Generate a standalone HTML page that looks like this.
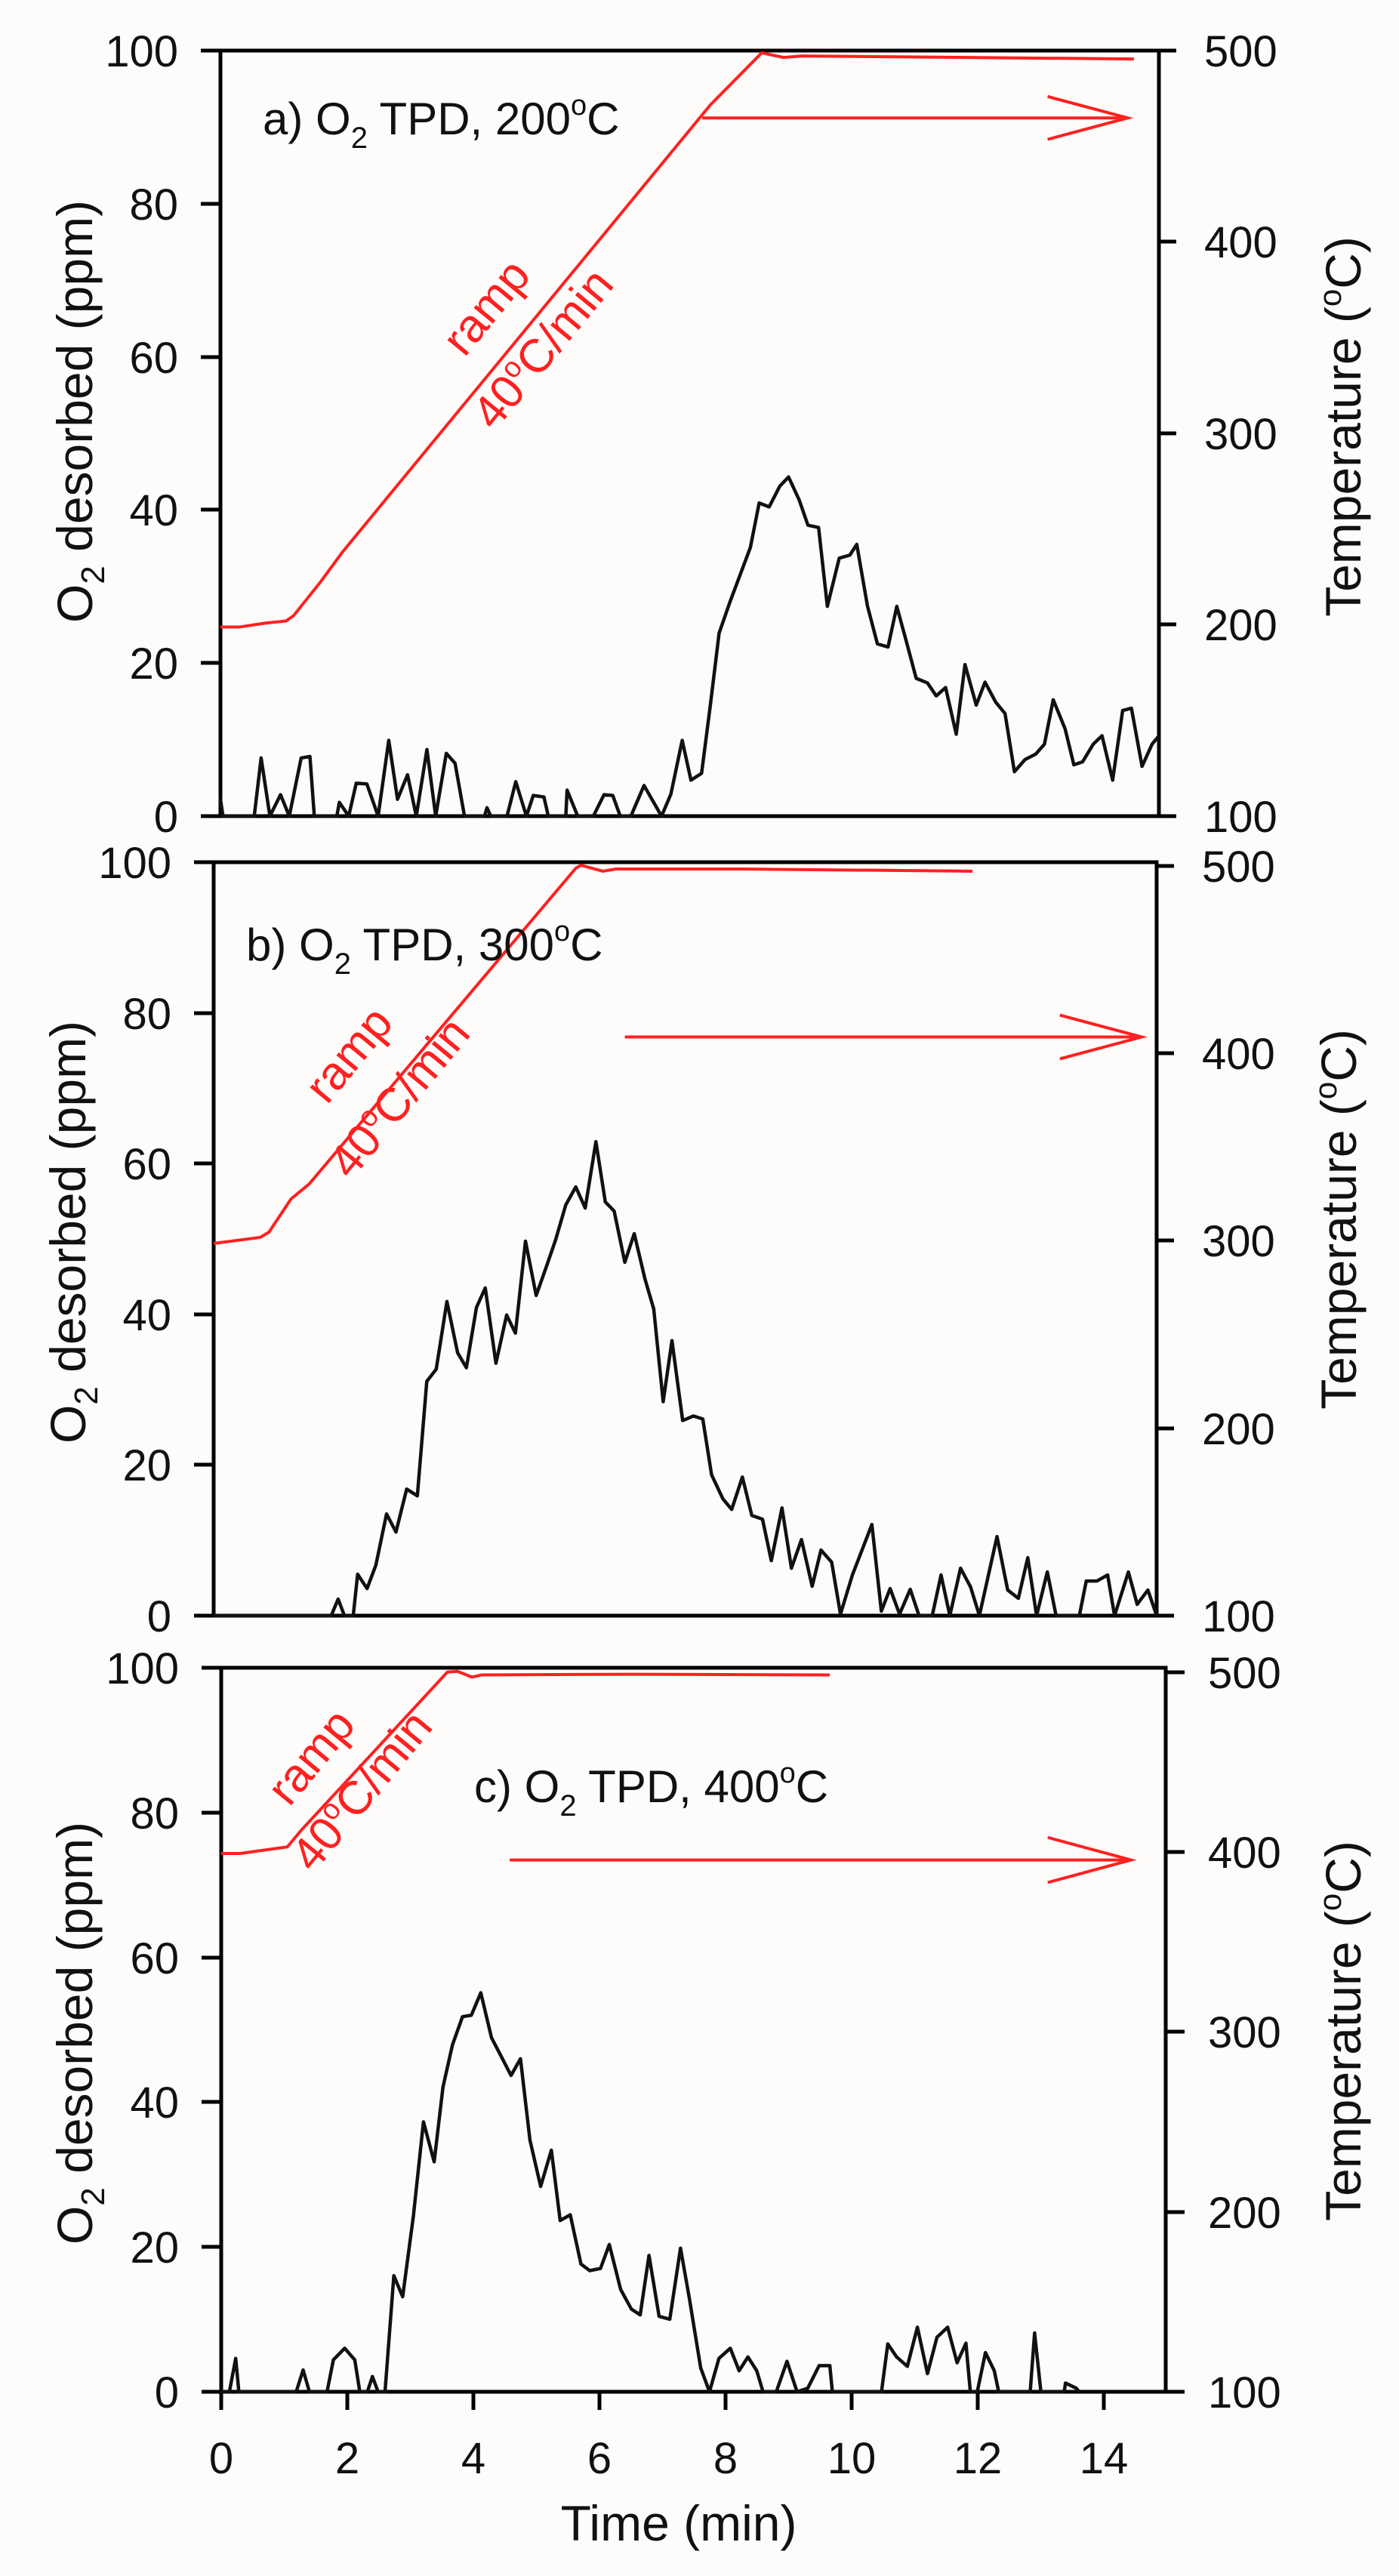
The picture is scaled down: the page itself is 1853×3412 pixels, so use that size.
<!DOCTYPE html>
<html><head><meta charset="utf-8"><style>
html,body{margin:0;padding:0;background:#fdfcfb;}
svg{display:block;font-family:"Liberation Sans",Arial,sans-serif;}
.ax{stroke:#000;stroke-width:5;fill:none;}
.bk{stroke:#111;stroke-width:4.5;fill:none;stroke-linejoin:round;vector-effect:non-scaling-stroke;}
.rd{stroke:#ff2020;stroke-width:4;fill:none;vector-effect:non-scaling-stroke;}
.t{font-size:58px;fill:#111;}
.ti{font-size:66px;fill:#111;}
.rt{font-size:62px;fill:#ff2020;}
</style></head><body>
<svg width="1853" height="3412" viewBox="0 0 1853 3412" xmlns="http://www.w3.org/2000/svg">
<rect width="1853" height="3412" fill="#fdfcfb"/>

<!-- ================= PANEL A ================= -->
<g>
<rect x="292" y="67" width="1243" height="1014" fill="#fff" class="ax"/>
<g class="ax">
<line x1="266" y1="67" x2="292" y2="67"/><line x1="266" y1="270" x2="292" y2="270"/><line x1="266" y1="473" x2="292" y2="473"/><line x1="266" y1="675" x2="292" y2="675"/><line x1="266" y1="878" x2="292" y2="878"/><line x1="266" y1="1081" x2="292" y2="1081"/>
<line x1="1535" y1="67" x2="1558" y2="67"/><line x1="1535" y1="320" x2="1558" y2="320"/><line x1="1535" y1="574" x2="1558" y2="574"/><line x1="1535" y1="827" x2="1558" y2="827"/><line x1="1535" y1="1081" x2="1558" y2="1081"/>
</g>
<g class="t" text-anchor="end">
<text x="236" y="88">100</text><text x="236" y="291">80</text><text x="236" y="494">60</text><text x="236" y="696">40</text><text x="236" y="899">20</text><text x="236" y="1102">0</text>
</g>
<g class="t">
<text x="1595" y="88">500</text><text x="1595" y="341">400</text><text x="1595" y="595">300</text><text x="1595" y="848">200</text><text x="1595" y="1102">100</text>
</g>
<g transform="translate(292,1081) scale(82.87,-10.14)">
<polyline class="rd" points="0,24.7 0.3,24.7 0.7,25.2 1.05,25.5 1.17,26.2 1.6,30.6 1.95,34.5 7.83,92.9 8.65,99.7 9.0,99.1 9.3,99.3 14.6,98.9"/>
<polyline class="rd" points="7.7,91.2 14.5,91.2"/>
<polyline class="rd" points="13.22,94 14.5,91.2 13.22,88.4"/>
<polyline class="bk" points="0,2.2 0.04,0 0.54,0 0.65,7.6 0.79,0 0.96,2.8 1.1,0 1.29,7.6 1.43,7.8 1.5,0 1.86,0 1.9,1.8 2.05,0 2.17,4.3 2.34,4.2 2.52,0 2.69,9.9 2.83,2.2 2.99,5.4 3.13,0 3.3,8.7 3.44,0 3.61,8.2 3.75,6.9 3.9,0 4.22,0 4.26,1.1 4.32,0 4.58,0 4.72,4.5 4.89,0 5.0,2.7 5.17,2.5 5.24,0 5.52,0 5.54,3.4 5.71,0 5.96,0 6.13,2.8 6.27,2.7 6.39,0 6.56,0 6.77,4 7.05,0 7.2,2.9 7.38,9.9 7.52,4.7 7.69,5.6 7.83,14.5 7.97,23.9 8.14,27.9 8.47,35.1 8.61,40.9 8.77,40.4 8.94,43.1 9.08,44.3 9.25,41.3 9.39,38 9.56,37.7 9.7,27.4 9.89,33.7 10.06,34.1 10.17,35.5 10.34,27.5 10.5,22.5 10.67,22.1 10.81,27.4 10.95,23.2 11.12,18 11.3,17.4 11.44,15.7 11.59,16.8 11.76,10.7 11.9,19.8 12.08,14.5 12.22,17.5 12.39,14.9 12.54,13.4 12.69,5.8 12.86,7.4 13.03,8.1 13.17,9.4 13.31,15.2 13.5,11.4 13.64,6.7 13.78,7.1 13.95,9.4 14.09,10.5 14.26,4.7 14.42,13.8 14.56,14.1 14.73,6.5 14.89,9.4 15,10.5"/>
</g>
<text x="348" y="178" style="font-size:60px" fill="#111">a) O<tspan font-size="40" dy="18">2</tspan><tspan dy="-18"> TPD, 200</tspan><tspan font-size="38" dy="-26">o</tspan><tspan dy="26">C</tspan></text>
<text class="rt" transform="translate(660,420) rotate(-50.5)" text-anchor="middle">ramp</text>
<text class="rt" transform="translate(735,475) rotate(-50.5)" text-anchor="middle">40<tspan font-size="38" dy="-24">o</tspan><tspan dy="24">C/min</tspan></text>
<text class="ti" transform="translate(122,545) rotate(-90)" text-anchor="middle">O<tspan font-size="44" dy="16">2</tspan><tspan dy="-16"> desorbed (ppm)</tspan></text>
<text class="ti" transform="translate(1802,565) rotate(-90)" text-anchor="middle">Temperature (<tspan font-size="42" dy="-26">o</tspan><tspan dy="26">C)</tspan></text>
</g>

<!-- ================= PANEL B ================= -->
<g>
<rect x="283" y="1142" width="1249" height="998" fill="#fff" class="ax"/>
<g class="ax">
<line x1="257" y1="1142" x2="283" y2="1142"/><line x1="257" y1="1342" x2="283" y2="1342"/><line x1="257" y1="1541" x2="283" y2="1541"/><line x1="257" y1="1741" x2="283" y2="1741"/><line x1="257" y1="1940" x2="283" y2="1940"/><line x1="257" y1="2140" x2="283" y2="2140"/>
<line x1="1532" y1="1147" x2="1555" y2="1147"/><line x1="1532" y1="1395" x2="1555" y2="1395"/><line x1="1532" y1="1643" x2="1555" y2="1643"/><line x1="1532" y1="1892" x2="1555" y2="1892"/><line x1="1532" y1="2140" x2="1555" y2="2140"/>
</g>
<g class="t" text-anchor="end">
<text x="227" y="1163">100</text><text x="227" y="1363">80</text><text x="227" y="1562">60</text><text x="227" y="1762">40</text><text x="227" y="1961">20</text><text x="227" y="2161">0</text>
</g>
<g class="t">
<text x="1592" y="1168">500</text><text x="1592" y="1416">400</text><text x="1592" y="1664">300</text><text x="1592" y="1913">200</text><text x="1592" y="2161">100</text>
</g>
<g transform="translate(283,2140) scale(83.27,-9.98)">
<polyline class="rd" points="0,49.4 0.74,50.2 0.88,50.9 1.23,55.3 1.52,57.3 5.76,99.2 5.84,99.6 6.19,98.8 6.4,99.1 8.39,99.1 12.07,98.8"/>
<polyline class="rd" points="6.54,76.8 14.76,76.8"/>
<polyline class="rd" points="13.46,79.7 14.76,76.8 13.46,73.9"/>
<polyline class="bk" points="0,0 1.87,0 1.98,2.2 2.08,0 2.22,0 2.29,5.5 2.44,3.6 2.58,6.7 2.75,13.5 2.9,11.1 3.07,16.8 3.24,15.9 3.39,31.1 3.54,32.7 3.71,41.7 3.88,34.9 4.02,32.9 4.18,40.9 4.32,43.5 4.49,33.5 4.66,39.9 4.8,37.5 4.96,49.7 5.13,42.5 5.3,46.5 5.44,49.9 5.6,54.5 5.76,56.9 5.91,54.1 6.08,62.9 6.23,54.9 6.37,53.7 6.54,46.9 6.69,50.7 6.86,44.7 7.0,40.7 7.15,28.4 7.29,36.5 7.46,25.9 7.63,26.5 7.78,26.1 7.92,18.7 8.1,15.5 8.24,14.1 8.41,18.4 8.56,13.3 8.73,12.8 8.87,7.3 9.04,14.3 9.19,6.3 9.35,10.1 9.52,3.9 9.66,8.7 9.83,7.1 9.97,0.2 10.16,5.4 10.47,12.1 10.62,0.6 10.76,3.6 10.91,0.2 11.08,3.5 11.22,0 11.43,0 11.57,5.4 11.71,0 11.88,6.3 12.04,3.8 12.18,0 12.46,10.5 12.63,3.4 12.8,2.3 12.95,7.7 13.09,0 13.26,5.8 13.4,0 13.77,0 13.88,4.6 14.05,4.6 14.22,5.4 14.33,0 14.55,5.8 14.69,1.5 14.86,3.4 15,0"/>
</g>
<text x="326" y="1272" style="font-size:60px" fill="#111">b) O<tspan font-size="40" dy="18">2</tspan><tspan dy="-18"> TPD, 300</tspan><tspan font-size="38" dy="-26">o</tspan><tspan dy="26">C</tspan></text>
<text class="rt" transform="translate(478,1410) rotate(-50.5)" text-anchor="middle">ramp</text>
<text class="rt" transform="translate(545,1467) rotate(-50.5)" text-anchor="middle">40<tspan font-size="38" dy="-24">o</tspan><tspan dy="24">C/min</tspan></text>
<text class="ti" transform="translate(113,1632) rotate(-90)" text-anchor="middle">O<tspan font-size="44" dy="16">2</tspan><tspan dy="-16"> desorbed (ppm)</tspan></text>
<text class="ti" transform="translate(1796,1615) rotate(-90)" text-anchor="middle">Temperature (<tspan font-size="42" dy="-26">o</tspan><tspan dy="26">C)</tspan></text>
</g>

<!-- ================= PANEL C ================= -->
<g>
<rect x="293" y="2209" width="1251" height="959" fill="#fff" class="ax"/>
<g class="ax">
<line x1="267" y1="2209" x2="293" y2="2209"/><line x1="267" y1="2401" x2="293" y2="2401"/><line x1="267" y1="2593" x2="293" y2="2593"/><line x1="267" y1="2784" x2="293" y2="2784"/><line x1="267" y1="2976" x2="293" y2="2976"/><line x1="267" y1="3168" x2="293" y2="3168"/>
<line x1="1544" y1="2215" x2="1569" y2="2215"/><line x1="1544" y1="2453" x2="1569" y2="2453"/><line x1="1544" y1="2691" x2="1569" y2="2691"/><line x1="1544" y1="2930" x2="1569" y2="2930"/><line x1="1544" y1="3168" x2="1569" y2="3168"/>
<line x1="293" y1="3168" x2="293" y2="3192"/><line x1="460" y1="3168" x2="460" y2="3192"/><line x1="627" y1="3168" x2="627" y2="3192"/><line x1="794" y1="3168" x2="794" y2="3192"/><line x1="961" y1="3168" x2="961" y2="3192"/><line x1="1128" y1="3168" x2="1128" y2="3192"/><line x1="1295" y1="3168" x2="1295" y2="3192"/><line x1="1462" y1="3168" x2="1462" y2="3192"/>
</g>
<g class="t" text-anchor="end">
<text x="237" y="2230">100</text><text x="237" y="2422">80</text><text x="237" y="2614">60</text><text x="237" y="2805">40</text><text x="237" y="2997">20</text><text x="237" y="3189">0</text>
</g>
<g class="t">
<text x="1600" y="2236">500</text><text x="1600" y="2474">400</text><text x="1600" y="2712">300</text><text x="1600" y="2951">200</text><text x="1600" y="3189">100</text>
</g>
<g class="t" text-anchor="middle">
<text x="293" y="3276">0</text><text x="460" y="3276">2</text><text x="627" y="3276">4</text><text x="794" y="3276">6</text><text x="961" y="3276">8</text><text x="1128" y="3276">10</text><text x="1295" y="3276">12</text><text x="1462" y="3276">14</text>
</g>
<text class="ti" x="899" y="3365" text-anchor="middle">Time (min)</text>
<g transform="translate(293,3168) scale(83.45,-9.61)">
<polyline class="rd" points="0,74.2 0.3,74.2 1.05,75.1 1.26,77.3 3.59,99.2 3.75,99.3 3.98,98.5 4.13,98.8 6.5,98.9 9.66,98.8"/>
<polyline class="rd" points="4.58,73.3 14.44,73.3"/>
<polyline class="rd" points="13.12,76.4 14.44,73.3 13.12,70.2"/>
<polyline class="bk" points="0,0 0.13,0 0.23,4.6 0.28,0 1.19,0 1.3,3 1.4,0 1.68,0 1.78,4.4 1.96,6 2.12,4.4 2.2,0 2.32,0 2.4,2.1 2.49,0 2.6,0 2.74,16 2.88,13.1 3.05,24.2 3.21,37.2 3.38,31.7 3.52,42 3.67,47.8 3.83,51.7 3.97,51.9 4.12,55 4.29,48.8 4.44,46.3 4.6,43.6 4.75,45.9 4.9,34.7 5.07,28.3 5.24,33.3 5.38,23.6 5.54,24.4 5.71,17.6 5.85,16.7 6.02,17 6.16,20.3 6.34,14.1 6.51,11.4 6.65,10.6 6.79,18.8 6.95,10.4 7.12,10 7.29,19.8 7.43,12.9 7.61,3.3 7.75,0 7.9,4.6 8.08,6 8.22,2.9 8.36,4.8 8.5,2.9 8.6,0 8.81,0 8.98,4.2 9.14,0 9.31,0.5 9.49,3.6 9.66,3.6 9.7,0 10.48,0 10.58,6.6 10.72,4.8 10.89,3.5 11.05,8.9 11.21,2.5 11.36,7.5 11.53,8.9 11.68,4 11.82,6.7 11.89,0 12.0,0 12.13,5.4 12.27,2.9 12.34,0 12.84,0 12.91,8.1 13.01,0 13.38,0 13.4,1.2 13.57,0.5 13.62,0"/>
</g>
<text x="628" y="2387" style="font-size:60px" fill="#111">c) O<tspan font-size="40" dy="18">2</tspan><tspan dy="-18"> TPD, 400</tspan><tspan font-size="38" dy="-26">o</tspan><tspan dy="26">C</tspan></text>
<text class="rt" transform="translate(428,2340) rotate(-50.5)" text-anchor="middle">ramp</text>
<text class="rt" transform="translate(495,2385) rotate(-50.5)" text-anchor="middle">40<tspan font-size="38" dy="-24">o</tspan><tspan dy="24">C/min</tspan></text>
<text class="ti" transform="translate(122,2693) rotate(-90)" text-anchor="middle">O<tspan font-size="44" dy="16">2</tspan><tspan dy="-16"> desorbed (ppm)</tspan></text>
<text class="ti" transform="translate(1802,2690) rotate(-90)" text-anchor="middle">Temperature (<tspan font-size="42" dy="-26">o</tspan><tspan dy="26">C)</tspan></text>
</g>
</svg>
</body></html>
